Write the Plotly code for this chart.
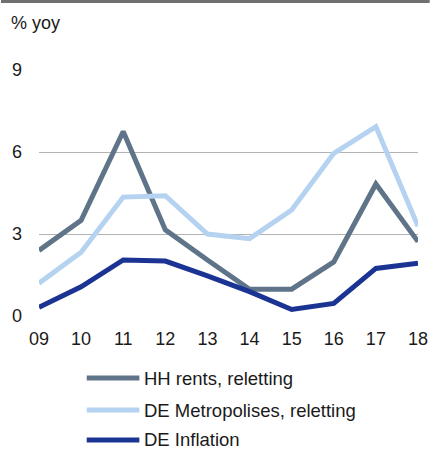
import plotly.graph_objects as go

years = ["09", "10", "11", "12", "13", "14", "15", "16", "17", "18"]
hh_rents = [2.4, 3.5, 6.75, 3.15, 2.05, 0.98, 0.98, 1.98, 4.83, 2.72]
de_metro = [1.2, 2.33, 4.35, 4.4, 3.0, 2.83, 3.88, 5.95, 6.93, 3.28]
de_infl = [0.32, 1.07, 2.05, 2.01, 1.47, 0.89, 0.24, 0.46, 1.74, 1.93]
y_ticks = [0, 3, 6, 9]

series = [
    ("HH rents, reletting", hh_rents, "#5f7489"),
    ("DE Metropolises, reletting", de_metro, "#b5d3f1"),
    ("DE Inflation", de_infl, "#1b3494"),
]

FONT = "Liberation Sans, Arial, sans-serif"
fig = go.Figure()
for name, vals, col in series:
    fig.add_trace(go.Scatter(
        x=list(range(len(years))), y=vals, mode="lines", name=name,
        line=dict(color=col, width=5), showlegend=False, hoverinfo="skip",
    ))

W, H = 440, 450
L, R, T, B = 39, 12, 70, 134
ph = H - T - B

def py(pix):
    return (H - B - pix) / ph

def px(pix):
    return (pix - L) / (W - L - R)

shapes = [
    dict(type="rect", xref="paper", yref="paper", x0=px(0), x1=px(W), y0=py(3), y1=py(0),
         fillcolor="#707070", line=dict(width=0)),
]
annotations = [
    dict(text="% yoy", xref="paper", yref="paper", x=px(8), y=py(23), xanchor="left",
         yanchor="middle", showarrow=False, font=dict(size=18, color="#1a1a1a", family=FONT)),
]
leg_y = [378, 410, 440]
for (name, vals, col), yy in zip(series, leg_y):
    shapes.append(dict(type="line", xref="paper", yref="paper", x0=px(88), x1=px(142),
                       y0=py(yy), y1=py(yy), line=dict(color=col, width=5)))
    annotations.append(dict(text=name, xref="paper", yref="paper", x=px(145), y=py(yy),
                            xanchor="left", yanchor="middle", showarrow=False,
                            font=dict(size=18.5, color="#1a1a1a", family=FONT)))

fig.update_layout(
    width=W, height=H, margin=dict(l=L, r=R, t=T, b=B),
    paper_bgcolor="white", plot_bgcolor="white",
    font=dict(family=FONT, size=18, color="#1a1a1a"),
    xaxis=dict(range=[0, 9], tickmode="array", tickvals=list(range(len(years))), ticktext=years,
               showgrid=False, zeroline=False, showline=False, ticks="", ticklabelstandoff=10,
               fixedrange=True),
    yaxis=dict(range=[0, 9], tickmode="array", tickvals=y_ticks, showgrid=True,
               gridcolor="#b3b3b3", gridwidth=1, zeroline=False, showline=False, ticks="",
               ticklabelstandoff=16, fixedrange=True),
    shapes=shapes, annotations=annotations,
)
fig.write_html("out.html", config={"displayModeBar": False},
               post_script="document.body.style.margin='0';document.body.style.overflow='hidden';")
